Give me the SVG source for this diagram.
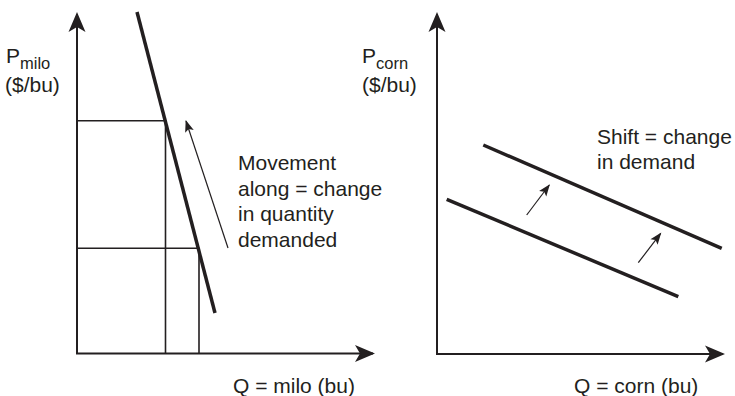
<svg xmlns="http://www.w3.org/2000/svg" width="735" height="396" viewBox="0 0 735 396">
<defs>
<style>
text{font-family:"Liberation Sans",Arial,sans-serif;fill:#231f20;font-size:21px}
.sub{font-size:16.5px}
.axis{stroke:#231f20;stroke-width:2;fill:none}
.guide{stroke:#231f20;stroke-width:1.6;fill:none}
.curve{stroke:#231f20;stroke-width:3.5;fill:none;stroke-linecap:butt}
.thin{stroke:#231f20;stroke-width:1.2;fill:none}
</style>
<marker id="axhead" markerUnits="userSpaceOnUse" markerWidth="24" markerHeight="20" viewBox="-22 -10 24 20" refX="-2" refY="0" orient="auto">
<path d="M0,0 L-20,-8.5 L-15,0 L-20,8.5 Z" fill="#231f20"/>
</marker>
<marker id="smallhead" markerUnits="userSpaceOnUse" markerWidth="16" markerHeight="12" viewBox="-14 -6 16 12" refX="-1" refY="0" orient="auto">
<path d="M0,0 L-12,-4.5 L-9.5,0 L-12,4.5 Z" fill="#231f20"/>
</marker>
</defs>
<rect width="735" height="396" fill="#ffffff"/>

<g id="left-chart">
<line class="axis" x1="77" y1="354" x2="77" y2="14" marker-end="url(#axhead)"/>
<line class="axis" x1="76" y1="353.5" x2="373" y2="353.5" marker-end="url(#axhead)"/>
<polyline class="guide" points="77,120.7 165.5,120.7 165.5,353.5"/>
<polyline class="guide" points="77,248.3 199,248.3 199,353.5"/>
<line class="curve" x1="137" y1="12" x2="215" y2="313"/>
</g>

<g id="right-chart">
<line class="axis" x1="437" y1="354" x2="437" y2="14" marker-end="url(#axhead)"/>
<line class="axis" x1="436" y1="354" x2="723" y2="354" marker-end="url(#axhead)"/>
<line class="curve" stroke-width="3" x1="483.3" y1="145" x2="721.7" y2="248.3"/>
<line class="curve" stroke-width="3" x1="446.7" y1="199.3" x2="678.3" y2="296.7"/>
</g>

<g id="connectors">
<line class="thin" x1="228" y1="248" x2="186" y2="121" marker-end="url(#smallhead)"/>
<line class="thin" x1="526.7" y1="215" x2="549.3" y2="185" marker-end="url(#smallhead)"/>
<line class="thin" x1="638.3" y1="262.7" x2="660.7" y2="233.3" marker-end="url(#smallhead)"/>
</g>

<g id="labels">
<text x="6" y="63">P<tspan class="sub" dy="6">milo</tspan></text>
<text x="5" y="91.5">($/bu)</text>
<text x="362" y="63">P<tspan class="sub" dy="6">corn</tspan></text>
<text x="362" y="91.5">($/bu)</text>
<text x="238" y="170">Movement</text>
<text x="238" y="195.5">along = change</text>
<text x="238" y="221">in quantity</text>
<text x="238" y="246.5">demanded</text>
<text x="597" y="143.5">Shift = change</text>
<text x="597" y="168.5">in demand</text>
<text x="233" y="393">Q = milo (bu)</text>
<text x="574" y="393">Q = corn (bu)</text>
</g>
</svg>
